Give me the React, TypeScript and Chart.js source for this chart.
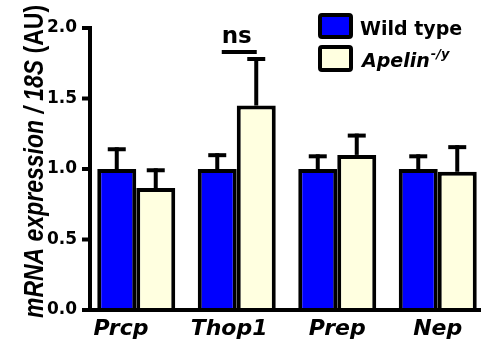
import React, { useEffect, useRef } from 'react';
import { Chart, registerables } from 'chart.js';

Chart.register(...registerables);

const categories = ['Prcp', 'Thop1', 'Prep', 'Nep'];
const wildTypeMeans = [1.0, 1.0, 1.0, 1.0];
const wildTypeSem = [0.14, 0.098, 0.09, 0.09];
const apelinMeans = [0.865, 1.45, 1.1, 0.98];
const apelinSem = [0.126, 0.33, 0.137, 0.175];
const yTickValues = [0, 0.5, 1.0, 1.5, 2.0];
const yTickLabels = ['0.0', '0.5', '1.0', '1.5', '2.0'];
const seriesNames = ['Wild type', 'Apelin'];
const apelinSuperscript = '-/y';
const yTitleItalic = 'mRNA expression / 18S';
const yTitleUpright = ' (AU)';
const nsLabel = 'ns';
const nsCategoryIndex = 1;

const seriesColors = ['#0000FF', '#FFFFE0'];
const HFONT = '"DejaVu Sans", sans-serif';
// trailing padding that shifts the first labels left, as in the source figure
const labelPad = ['    ', '  ', '', ''];

const decorPlugin = {
  id: 'decor',
  afterDatasetsDraw(chart: any) {
    const ctx = chart.ctx as CanvasRenderingContext2D;
    const xs = chart.scales.x;
    const ys = chart.scales.y;
    const area = chart.chartArea;
    ctx.save();
    ctx.strokeStyle = '#000';
    ctx.fillStyle = '#000';
    ctx.lineCap = 'butt';

    // error bars (upper only)
    const sems = [wildTypeSem, apelinSem];
    const means = [wildTypeMeans, apelinMeans];
    for (let d = 0; d < 2; d++) {
      const meta = chart.getDatasetMeta(d);
      meta.data.forEach((bar: any, j: number) => {
        const x = bar.x;
        const y0 = ys.getPixelForValue(means[d][j]);
        const y1 = ys.getPixelForValue(means[d][j] + sems[d][j]);
        ctx.lineWidth = 4;
        ctx.beginPath();
        ctx.moveTo(x, y0);
        ctx.lineTo(x, y1 - 2);
        ctx.stroke();
        ctx.beginPath();
        ctx.moveTo(x - 9, y1);
        ctx.lineTo(x + 9, y1);
        ctx.stroke();
      });
    }

    // axes
    const axisX = area.left + 4;
    ctx.lineWidth = 4;
    ctx.beginPath();
    ctx.moveTo(axisX, ys.getPixelForValue(2.0) - 2);
    ctx.lineTo(axisX, area.bottom + 2);
    ctx.stroke();
    ctx.beginPath();
    ctx.moveTo(axisX - 8, area.bottom);
    ctx.lineTo(chart.width, area.bottom);
    ctx.stroke();
    yTickValues.forEach((v) => {
      const py = ys.getPixelForValue(v);
      ctx.beginPath();
      ctx.moveTo(axisX - 8, py);
      ctx.lineTo(axisX, py);
      ctx.stroke();
    });

    // ns annotation
    const cx = xs.getPixelForValue(nsCategoryIndex);
    ctx.font = `bold 23px ${HFONT}`;
    ctx.textAlign = 'center';
    ctx.textBaseline = 'alphabetic';
    ctx.fillText(nsLabel, cx, 43);
    ctx.beginPath();
    ctx.moveTo(cx - 15, 52);
    ctx.lineTo(cx + 20, 52);
    ctx.stroke();

    // legend
    const boxes = [
      { y: 13, h: 26 },
      { y: 45, h: 27 },
    ];
    boxes.forEach((b, i) => {
      ctx.fillStyle = seriesColors[i];
      ctx.beginPath();
      (ctx as any).roundRect(320, b.y + 2, 31, b.h - 4, 2);
      ctx.fill();
      ctx.lineWidth = 4;
      ctx.strokeStyle = '#000';
      ctx.stroke();
    });
    ctx.fillStyle = '#000';
    ctx.textAlign = 'left';
    ctx.font = `bold 19px ${HFONT}`;
    ctx.fillText(seriesNames[0], 360, 35);
    ctx.font = `italic bold 19px ${HFONT}`;
    ctx.fillText(seriesNames[1], 362, 67);
    const w = ctx.measureText(seriesNames[1]).width;
    ctx.font = `italic bold 13px ${HFONT}`;
    ctx.fillText(apelinSuperscript, 362 + w + 1, 58);

    // y title
    ctx.save();
    ctx.translate(43, 161.5);
    ctx.scale(1.2, 1);
    ctx.rotate(-Math.PI / 2);
    const fItal = 'italic bold 23px "Liberation Sans", Arial, sans-serif';
    const fUp = 'bold 23px "Liberation Sans", Arial, sans-serif';
    ctx.font = fItal;
    const w1 = ctx.measureText(yTitleItalic).width;
    ctx.font = fUp;
    const w2 = ctx.measureText(yTitleUpright).width;
    const sx = -(w1 + w2) / 2;
    ctx.font = fItal;
    ctx.fillText(yTitleItalic, sx, 0);
    ctx.font = fUp;
    ctx.fillText(yTitleUpright, sx + w1, 0);
    ctx.restore();

    ctx.restore();
  },
};

export default function App() {
  const ref = useRef<HTMLCanvasElement>(null);
  useEffect(() => {
    const chart = new Chart(ref.current as HTMLCanvasElement, {
      type: 'bar',
      data: {
        labels: categories,
        datasets: [
          {
            label: seriesNames[0],
            data: wildTypeMeans,
            backgroundColor: seriesColors[0],
            borderColor: '#000',
            borderWidth: 4,
            barPercentage: 1,
            categoryPercentage: 0.776,
          },
          {
            label: seriesNames[1],
            data: apelinMeans,
            backgroundColor: seriesColors[1],
            borderColor: '#000',
            borderWidth: 4,
            barPercentage: 1,
            categoryPercentage: 0.776,
          },
        ],
      },
      options: {
        responsive: false,
        animation: false,
        devicePixelRatio: 1,
        layout: { padding: { top: 28, right: 4, left: 0, bottom: 0 } },
        plugins: { legend: { display: false }, tooltip: { enabled: false } },
        scales: {
          x: {
            grid: { display: false, drawTicks: false },
            border: { display: false },
            ticks: {
              color: '#000',
              font: { family: 'DejaVu Sans', size: 22, weight: 'bold', style: 'italic' },
              padding: 6,
              maxRotation: 0,
              autoSkip: false,
              callback: (_v: any, i: number) => categories[i] + labelPad[i],
            },
            afterFit: (s: any) => {
              s.height = 41;
            },
          },
          y: {
            min: 0,
            max: 2,
            grid: { display: false, drawTicks: false },
            border: { display: false },
            ticks: {
              stepSize: 0.5,
              color: '#000',
              font: { family: 'DejaVu Sans', size: 17, weight: 'bold' },
              padding: 9,
              callback: (_v: any, i: number) => yTickLabels[i],
            },
            afterFit: (s: any) => {
              s.width = 86;
            },
          },
        },
      } as any,
      plugins: [decorPlugin],
    });
    return () => chart.destroy();
  }, []);
  return (
    <div
      style={{
        position: 'fixed',
        left: 0,
        top: 0,
        width: 481,
        height: 351,
        overflow: 'hidden',
        background: '#fff',
      }}
    >
      <canvas ref={ref} width={492} height={351} style={{ display: 'block' }} />
    </div>
  );
}
